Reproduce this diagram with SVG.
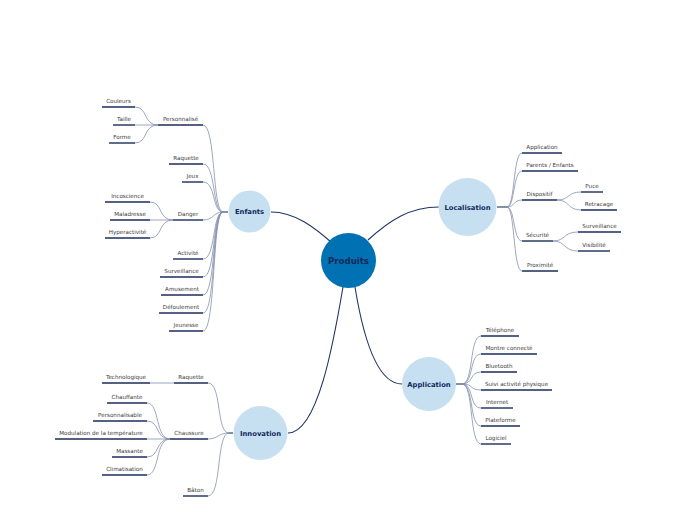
<svg xmlns="http://www.w3.org/2000/svg" width="696" height="520" viewBox="0 0 696 520">
<style>
.bg{fill:#ffffff}
.main{stroke:#1f3563;stroke-width:1.1;fill:none}
.lk{stroke:#7d89aa;stroke-width:0.75;fill:none}
.ul{stroke:#1b2d5c;stroke-width:1.4;fill:none}
.leaf{font-family:"DejaVu Sans",Verdana,sans-serif;font-size:5.6px;fill:#3a3a3a;text-anchor:middle}
.sub{fill:#c6e0f2}
.subt{font-family:"DejaVu Sans",Verdana,sans-serif;font-size:6.8px;font-weight:bold;fill:#13295a;text-anchor:middle}
.root{fill:#0072b4}
.roott{font-family:"DejaVu Sans",Verdana,sans-serif;font-size:8.6px;font-weight:bold;fill:#13295a;text-anchor:middle}
</style>
<rect class="bg" x="0" y="0" width="696" height="520"/>
<g id="connectors">
<!-- root to main -->
<path class="main" d="M331,242 C315,228 295,212 271,212"/>
<path class="main" d="M368,240 C390,220 410,207 439,207"/>
<path class="main" d="M355,287 C362,330 375,384 402,384"/>
<path class="main" d="M343,287 C334,340 318,433 288,433"/>
<!-- short bundle stubs -->
<path class="main" d="M223,212 L228,212"/>
<path class="main" d="M497,207 L507,207"/>
<path class="main" d="M456,384 L462,384"/>
<path class="main" d="M229,433 L233,433"/>
<!-- Enfants children -->
<path class="lk" d="M203,125 C216,125 212,212 223,212"/>
<path class="lk" d="M203,164 C216,164 212,212 223,212"/>
<path class="lk" d="M203,182 C216,182 212,212 223,212"/>
<path class="lk" d="M203,220 C214,220 213,212 223,212"/>
<path class="lk" d="M203,259 C216,259 212,212 223,212"/>
<path class="lk" d="M203,277 C216,277 212,212 223,212"/>
<path class="lk" d="M203,295 C216,295 212,212 223,212"/>
<path class="lk" d="M203,313 C216,313 212,212 223,212"/>
<path class="lk" d="M203,331 C216,331 212,212 223,212"/>
<!-- Personnalisé children -->
<path class="lk" d="M135,107 C148,107 143,125 158,125"/>
<path class="lk" d="M135,125 L158,125"/>
<path class="lk" d="M135,143 C148,143 143,125 158,125"/>
<!-- Danger children -->
<path class="lk" d="M150,202 C163,202 158,220 173,220"/>
<path class="lk" d="M150,220 L173,220"/>
<path class="lk" d="M150,238 C163,238 158,220 173,220"/>
<!-- Innovation children -->
<path class="lk" d="M208,383 C222,383 216,433 229,433"/>
<path class="lk" d="M208,439 C218,439 218,433 229,433"/>
<path class="lk" d="M208,496 C222,496 216,433 229,433"/>
<path class="lk" d="M150,383 L174,383"/>
<!-- Chaussure children -->
<path class="lk" d="M147,403 C160,403 155,439 170,439"/>
<path class="lk" d="M147,421 C160,421 155,439 170,439"/>
<path class="lk" d="M147,439 L170,439"/>
<path class="lk" d="M147,457 C160,457 155,439 170,439"/>
<path class="lk" d="M147,475 C160,475 155,439 170,439"/>
<!-- Localisation children -->
<path class="lk" d="M507,207 C515,207 513,153 522,153"/>
<path class="lk" d="M507,207 C515,207 513,171 522,171"/>
<path class="lk" d="M507,207 C515,207 513,200 522,200"/>
<path class="lk" d="M507,207 C515,207 513,241 522,241"/>
<path class="lk" d="M507,207 C515,207 513,271 522,271"/>
<!-- Dispositif children -->
<path class="lk" d="M557,200 C570,200 567,192 581,192"/>
<path class="lk" d="M557,200 C570,200 567,210 581,210"/>
<!-- Sécurité children -->
<path class="lk" d="M553,241 C566,241 563,232 578,232"/>
<path class="lk" d="M553,241 C566,241 563,251 578,251"/>
<!-- Application children -->
<path class="lk" d="M462,384 C474,384 469,336 481,336"/>
<path class="lk" d="M462,384 C474,384 469,354 481,354"/>
<path class="lk" d="M462,384 C474,384 469,372 481,372"/>
<path class="lk" d="M462,384 C474,384 469,390 481,390"/>
<path class="lk" d="M462,384 C474,384 469,408 481,408"/>
<path class="lk" d="M462,384 C474,384 469,426 481,426"/>
<path class="lk" d="M462,384 C474,384 469,444 481,444"/>
</g>

<g id="produits"><circle class="root" cx="348.5" cy="260.5" r="27.5"/><text class="roott" x="348.5" y="263.5">Produits</text></g>

<g id="enfants"><circle class="sub" cx="249.5" cy="211.5" r="21"/><text class="subt" x="249.5" y="214">Enfants</text></g>
<g id="localisation"><circle class="sub" cx="467.5" cy="207" r="29"/><text class="subt" x="467.5" y="209.5">Localisation</text></g>
<g id="application"><circle class="sub" cx="429" cy="384" r="27"/><text class="subt" x="429" y="386.5">Application</text></g>
<g id="innovation"><circle class="sub" cx="260.5" cy="433" r="27"/><text class="subt" x="260.5" y="435.5">Innovation</text></g>

<!-- Enfants leaves -->
<g id="e-personnalise"><line class="ul" x1="158" y1="125" x2="203" y2="125"/><text class="leaf" x="180.5" y="121">Personnalisé</text></g>
<g id="e-couleurs"><line class="ul" x1="102" y1="107" x2="135" y2="107"/><text class="leaf" x="118.5" y="103">Couleurs</text></g>
<g id="e-taille"><line class="ul" x1="113" y1="125" x2="135" y2="125"/><text class="leaf" x="124" y="121">Taille</text></g>
<g id="e-forme"><line class="ul" x1="109" y1="143" x2="135" y2="143"/><text class="leaf" x="122" y="139">Forme</text></g>
<g id="e-raquette"><line class="ul" x1="169" y1="164" x2="203" y2="164"/><text class="leaf" x="186" y="160">Raquette</text></g>
<g id="e-jeux"><line class="ul" x1="182" y1="182" x2="203" y2="182"/><text class="leaf" x="192.5" y="178">Jeux</text></g>
<g id="e-danger"><line class="ul" x1="173" y1="220" x2="203" y2="220"/><text class="leaf" x="188" y="216">Danger</text></g>
<g id="e-incoscience"><line class="ul" x1="105" y1="202" x2="150" y2="202"/><text class="leaf" x="127.5" y="198">Incoscience</text></g>
<g id="e-maladresse"><line class="ul" x1="110" y1="220" x2="150" y2="220"/><text class="leaf" x="130" y="216">Maladresse</text></g>
<g id="e-hyperactivite"><line class="ul" x1="105" y1="238" x2="150" y2="238"/><text class="leaf" x="127.5" y="234">Hyperactivité</text></g>
<g id="e-activite"><line class="ul" x1="173" y1="259" x2="203" y2="259"/><text class="leaf" x="188" y="255">Activité</text></g>
<g id="e-surveillance"><line class="ul" x1="160" y1="277" x2="203" y2="277"/><text class="leaf" x="181.5" y="273">Surveillance</text></g>
<g id="e-amusement"><line class="ul" x1="161" y1="295" x2="203" y2="295"/><text class="leaf" x="182" y="291">Amusement</text></g>
<g id="e-defoulement"><line class="ul" x1="159" y1="313" x2="203" y2="313"/><text class="leaf" x="181" y="309">Défoulement</text></g>
<g id="e-jeunesse"><line class="ul" x1="169" y1="331" x2="203" y2="331"/><text class="leaf" x="186" y="327">Jeunesse</text></g>

<!-- Innovation leaves -->
<g id="i-raquette"><line class="ul" x1="174" y1="383" x2="208" y2="383"/><text class="leaf" x="191" y="379">Raquette</text></g>
<g id="i-technologique"><line class="ul" x1="102" y1="383" x2="150" y2="383"/><text class="leaf" x="126" y="379">Technologique</text></g>
<g id="i-chaussure"><line class="ul" x1="170" y1="439" x2="208" y2="439"/><text class="leaf" x="189" y="435">Chaussure</text></g>
<g id="i-chauffante"><line class="ul" x1="107" y1="403" x2="147" y2="403"/><text class="leaf" x="127" y="399">Chauffante</text></g>
<g id="i-personnalisable"><line class="ul" x1="93" y1="421" x2="147" y2="421"/><text class="leaf" x="120" y="417">Personnalisable</text></g>
<g id="i-modulation"><line class="ul" x1="55" y1="439" x2="147" y2="439"/><text class="leaf" x="101" y="435">Modulation de la température</text></g>
<g id="i-massante"><line class="ul" x1="112" y1="457" x2="147" y2="457"/><text class="leaf" x="129.5" y="453">Massante</text></g>
<g id="i-climatisation"><line class="ul" x1="102" y1="475" x2="147" y2="475"/><text class="leaf" x="124.5" y="471">Climatisation</text></g>
<g id="i-baton"><line class="ul" x1="183" y1="496" x2="208" y2="496"/><text class="leaf" x="195.5" y="492">Bâton</text></g>

<!-- Localisation leaves -->
<g id="l-application"><line class="ul" x1="522" y1="153" x2="562" y2="153"/><text class="leaf" x="542" y="149">Application</text></g>
<g id="l-parents"><line class="ul" x1="522" y1="171" x2="578" y2="171"/><text class="leaf" x="550" y="167">Parents / Enfants</text></g>
<g id="l-dispositif"><line class="ul" x1="522" y1="200" x2="557" y2="200"/><text class="leaf" x="539.5" y="196">Dispositif</text></g>
<g id="l-puce"><line class="ul" x1="581" y1="192" x2="603" y2="192"/><text class="leaf" x="592" y="188">Puce</text></g>
<g id="l-retracage"><line class="ul" x1="581" y1="210" x2="617" y2="210"/><text class="leaf" x="599" y="206">Retracage</text></g>
<g id="l-securite"><line class="ul" x1="522" y1="241" x2="553" y2="241"/><text class="leaf" x="537.5" y="237">Sécurité</text></g>
<g id="l-surveillance"><line class="ul" x1="578" y1="232" x2="621" y2="232"/><text class="leaf" x="599.5" y="228">Surveillance</text></g>
<g id="l-visibilite"><line class="ul" x1="578" y1="251" x2="610" y2="251"/><text class="leaf" x="594" y="247">Visibilité</text></g>
<g id="l-proximite"><line class="ul" x1="522" y1="271" x2="558" y2="271"/><text class="leaf" x="540" y="267">Proximité</text></g>

<!-- Application leaves -->
<g id="a-telephone"><line class="ul" x1="481" y1="336" x2="519" y2="336"/><text class="leaf" x="500" y="332">Téléphone</text></g>
<g id="a-montre"><line class="ul" x1="481" y1="354" x2="537" y2="354"/><text class="leaf" x="509" y="350">Montre connecté</text></g>
<g id="a-bluetooth"><line class="ul" x1="481" y1="372" x2="517" y2="372"/><text class="leaf" x="499" y="368">Bluetooth</text></g>
<g id="a-suivi"><line class="ul" x1="481" y1="390" x2="552" y2="390"/><text class="leaf" x="516.5" y="386">Suivi activité physique</text></g>
<g id="a-internet"><line class="ul" x1="481" y1="408" x2="513" y2="408"/><text class="leaf" x="497" y="404">Internet</text></g>
<g id="a-plateforme"><line class="ul" x1="481" y1="426" x2="520" y2="426"/><text class="leaf" x="500.5" y="422">Plateforme</text></g>
<g id="a-logiciel"><line class="ul" x1="481" y1="444" x2="511" y2="444"/><text class="leaf" x="496" y="440">Logiciel</text></g>
</svg>
